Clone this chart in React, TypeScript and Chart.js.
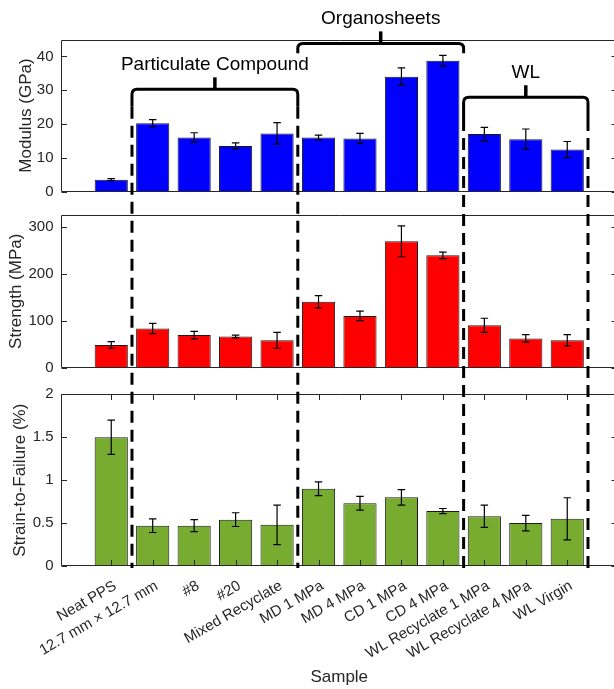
import React, { useEffect, useRef } from "react";
import { Chart, registerables } from "chart.js";

Chart.register(...registerables);

// ---------- data ----------
const categories = [
  "Neat PPS",
  "12.7 mm × 12.7 mm",
  "#8",
  "#20",
  "Mixed Recyclate",
  "MD 1 MPa",
  "MD 4 MPa",
  "CD 1 MPa",
  "CD 4 MPa",
  "WL Recyclate 1 MPa",
  "WL Recyclate 4 MPa",
  "WL Virgin",
];
const modulus = [3.5, 20.2, 16.0, 13.5, 17.2, 16.0, 15.7, 34.0, 38.7, 17.0, 15.5, 12.4];
const modulusErr = [0.3, 1.1, 1.4, 0.9, 3.2, 0.7, 1.5, 2.6, 1.6, 2.0, 3.0, 2.4];
const strength = [48, 83, 69, 66, 58, 140, 110, 269, 239, 90, 62, 58];
const strengthErr = [7, 11, 8, 3, 17, 13, 10, 33, 7, 15, 8, 12];
const strain = [1.5, 0.47, 0.47, 0.54, 0.48, 0.9, 0.73, 0.8, 0.64, 0.58, 0.5, 0.55];
const strainErr = [0.2, 0.08, 0.07, 0.08, 0.23, 0.08, 0.08, 0.09, 0.03, 0.13, 0.09, 0.245];

const modulusTicks = [0, 10, 20, 30, 40];
const strengthTicks = [0, 100, 200, 300];
const strainTicks = [0, 0.5, 1, 1.5, 2];

const groupNames = ["Particulate Compound", "Organosheets", "WL"];
const groupStart = [0.5, 4.5, 8.5];
const groupEnd = [4.5, 8.5, 11.5];
const dividers = [0.5, 4.5, 8.5, 11.5];

// ---------- layout / style constants ----------
const FONT = "'Liberation Sans', Arial, Helvetica, sans-serif";
const AX = "#262626";
// bracket levels expressed in modulus-axis units
const bracketLevel = [30.25, 43.85, 27.9];
const bracketLegBottom = [25.1, 40.9, 21.5];
const TIP = 12;
const DASH_END = 568;
const TICK_LEN = 5.5;

const errSets = [modulusErr, strengthErr, strainErr];
const yIds = ["y1", "y2", "y3"];

const errorPlugin = {
  id: "errorBars",
  afterDatasetsDraw(chart: any) {
    const ctx = chart.ctx;
    const xs = chart.scales.x;
    ctx.save();
    ctx.strokeStyle = "#000";
    ctx.lineWidth = 1.2;
    chart.data.datasets.forEach((ds: any, di: number) => {
      const ys = chart.scales[ds.yAxisID];
      const errs = errSets[di];
      ds.data.forEach((pt: any, i: number) => {
        const px = xs.getPixelForValue(pt.x);
        const t = ys.getPixelForValue(pt.y + errs[i]);
        const b = ys.getPixelForValue(pt.y - errs[i]);
        const w = 3.75;
        ctx.beginPath();
        ctx.moveTo(px, t);
        ctx.lineTo(px, b);
        ctx.moveTo(px - w, t);
        ctx.lineTo(px + w, t);
        ctx.moveTo(px - w, b);
        ctx.lineTo(px + w, b);
        ctx.stroke();
      });
    });

    // axes boxes and tick marks
    const { left, right } = chart.chartArea;
    ctx.strokeStyle = AX;
    ctx.lineWidth = 1;
    yIds.forEach((id, k) => {
      const s = chart.scales[id];
      const top = Math.round(s.top) + 0.5;
      const bot = Math.round(s.bottom) - 0.5;
      ctx.beginPath();
      ctx.moveTo(left, top);
      ctx.lineTo(right, top);
      ctx.moveTo(left, bot);
      ctx.lineTo(right, bot);
      ctx.moveTo(left, top);
      ctx.lineTo(left, bot);
      ctx.moveTo(right, top);
      ctx.lineTo(right, bot);
      s.ticks.forEach((t: any) => {
        const py = Math.round(s.getPixelForValue(t.value)) + 0.5;
        ctx.moveTo(left, py);
        ctx.lineTo(left + TICK_LEN, py);
        ctx.moveTo(right, py);
        ctx.lineTo(right - TICK_LEN, py);
      });
      if (k === 2) {
        xs.ticks.forEach((t: any) => {
          const px = Math.round(xs.getPixelForValue(t.value)) + 0.5;
          ctx.moveTo(px, top);
          ctx.lineTo(px, top + TICK_LEN);
          ctx.moveTo(px, bot);
          ctx.lineTo(px, bot - TICK_LEN);
        });
      }
      ctx.stroke();
    });
    ctx.restore();
  },
  afterDraw(chart: any) {
    const ctx = chart.ctx;
    const xs = chart.scales.x;
    const ym = chart.scales.y1;
    ctx.save();
    ctx.strokeStyle = "#000";
    ctx.fillStyle = "#000";
    ctx.lineCap = "butt";

    // dashed dividers
    ctx.lineWidth = 3;
    ctx.setLineDash([12, 7]);
    dividers.forEach((d) => {
      let start = Infinity;
      groupStart.forEach((g, i) => {
        if (g === d || groupEnd[i] === d) {
          const yb = ym.getPixelForValue(bracketLegBottom[i]);
          start = start === Infinity ? yb : Math.max(start, yb);
        }
      });
      const px = xs.getPixelForValue(d);
      ctx.beginPath();
      ctx.moveTo(px, start);
      ctx.lineTo(px, DASH_END);
      ctx.stroke();
    });
    ctx.setLineDash([]);

    // brackets
    groupNames.forEach((name, i) => {
      const x0 = xs.getPixelForValue(groupStart[i]);
      const x1 = xs.getPixelForValue(groupEnd[i]);
      const xc = (x0 + x1) / 2;
      const lv = ym.getPixelForValue(bracketLevel[i]);
      const lb = ym.getPixelForValue(bracketLegBottom[i]);
      const r = 5;
      ctx.lineWidth = 3;
      ctx.lineJoin = "round";
      ctx.beginPath();
      ctx.moveTo(x0, lb);
      ctx.lineTo(x0, lv + r);
      ctx.quadraticCurveTo(x0, lv, x0 + r, lv);
      ctx.lineTo(x1 - r, lv);
      ctx.quadraticCurveTo(x1, lv, x1, lv + r);
      ctx.lineTo(x1, lb);
      ctx.stroke();
      ctx.lineWidth = 3.5;
      ctx.beginPath();
      ctx.moveTo(xc, lv);
      ctx.lineTo(xc, lv - TIP);
      ctx.stroke();
      ctx.font = `19px ${FONT}`;
      ctx.textAlign = "center";
      ctx.textBaseline = "alphabetic";
      ctx.fillStyle = "#000";
      ctx.fillText(name, xc, lv - TIP - 7);
    });
    ctx.restore();
  },
};

function yScale(
  weight: number,
  max: number,
  ticks: number[],
  title: string,
  titlePad: number
) {
  return {
    type: "linear",
    position: "left",
    stack: "rows",
    stackWeight: weight,
    min: 0,
    max,
    afterBuildTicks: (s: any) => {
      s.ticks = ticks.map((v) => ({ value: v }));
    },
    afterFit: (s: any) => {
      s.width = 61.5;
    },
    grid: { display: false, drawTicks: false },
    border: { display: false },
    ticks: {
      padding: 8,
      color: AX,
      font: { size: 15, family: FONT },
      callback: (v: any) => String(v),
    },
    title: {
      display: true,
      text: title,
      color: AX,
      font: { size: 17, family: FONT },
      padding: { top: titlePad, bottom: 0 },
    },
  };
}

function spacer(weight: number) {
  return {
    type: "linear",
    position: "left",
    stack: "rows",
    stackWeight: weight,
    display: false,
    afterFit: (s: any) => {
      s.width = 61.5;
    },
  };
}

export default function App() {
  const ref = useRef<HTMLCanvasElement>(null);
  useEffect(() => {
    const canvas = ref.current!;
    const mk = (vals: number[]) => vals.map((v, i) => ({ x: i, y: v }));
    const common = {
      borderColor: "#1a1a1a",
      borderWidth: 1,
      grouped: false,
      barPercentage: 0.8,
      categoryPercentage: 1,
    };
    const chart = new Chart(canvas, {
      type: "bar",
      data: {
        datasets: [
          { label: "Modulus (GPa)", data: mk(modulus), yAxisID: "y1", backgroundColor: "#0000ff", ...common },
          { label: "Strength (MPa)", data: mk(strength), yAxisID: "y2", backgroundColor: "#ff0000", ...common },
          { label: "Strain-to-Failure (%)", data: mk(strain), yAxisID: "y3", backgroundColor: "#77ac30", ...common },
        ] as any,
      },
      options: {
        responsive: false,
        maintainAspectRatio: false,
        animation: false,
        devicePixelRatio: 1,
        layout: { padding: { top: 39.5, left: 0, right: 3, bottom: 0 } },
        plugins: { legend: { display: false }, tooltip: { enabled: false } },
        scales: {
          x: {
            type: "linear",
            position: "bottom",
            min: -1.2,
            max: 12.2,
            offset: false,
            afterBuildTicks: (s: any) => {
              s.ticks = categories.map((_, i) => ({ value: i }));
            },
            afterFit: (s: any) => {
              s.height = 123;
            },
            grid: { display: false, drawTicks: false },
            border: { display: false },
            ticks: {
              autoSkip: false,
              minRotation: 30,
              maxRotation: 30,
              padding: 11,
              labelOffset: 4,
              color: AX,
              font: { size: 15, family: FONT },
              callback: (v: any) => categories[v as number],
            },
            title: {
              display: true,
              text: "Sample",
              color: AX,
              font: { size: 17, family: FONT },
              padding: { top: 0, bottom: 1 },
            },
          },
          // stacked left axes are placed bottom-up in definition order
          y3: yScale(171.7, 2, strainTicks, "Strain-to-Failure (%)", 9.8),
          g2: spacer(26.8),
          y2: yScale(152.5, 325, strengthTicks, "Strength (MPa)", 6.3),
          g1: spacer(23.5),
          y1: yScale(152, 45, modulusTicks, "Modulus (GPa)", 15.8),
        } as any,
      },
      plugins: [errorPlugin],
    } as any);
    return () => chart.destroy();
  }, []);
  return (
    <div
      style={{
        position: "fixed",
        left: 0,
        top: 0,
        width: 614,
        height: 689,
        overflow: "hidden",
        background: "#fff",
      }}
    >
      <canvas ref={ref} width={620} height={689} style={{ display: "block", width: 620, height: 689 }} />
    </div>
  );
}
